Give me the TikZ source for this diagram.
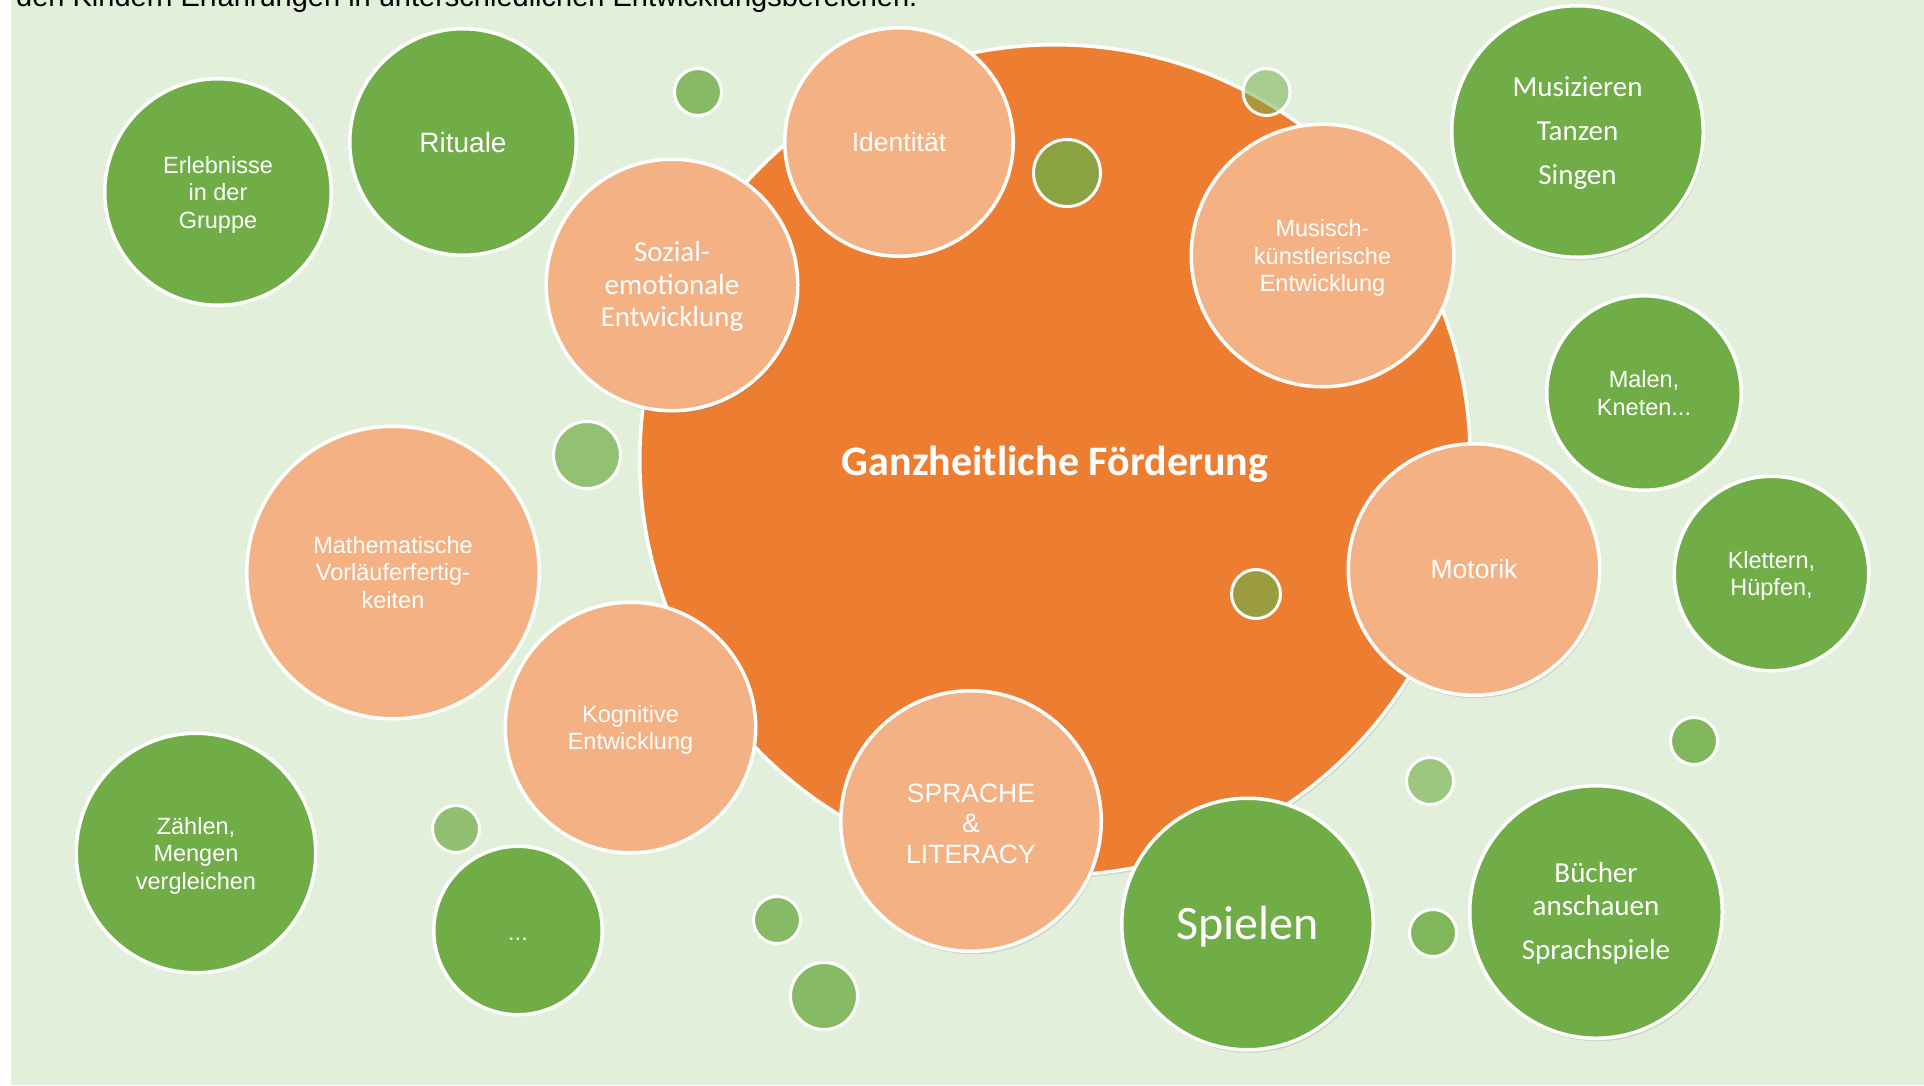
\documentclass[tikz,border=0pt]{standalone}
\usepackage{fontspec}
\setmainfont{Liberation Sans}
\newfontfamily\carlito{Carlito}
\usetikzlibrary{shadows}
\definecolor{bgc}{HTML}{E2EFDA}
\definecolor{corange}{HTML}{ED7D31}
\definecolor{clight}{HTML}{F4B183}
\definecolor{cgreen}{HTML}{70AD47}
\tikzset{
  bub/.style={circle, draw=white, line width=3.5pt, inner sep=0pt},
  grn/.style={bub, fill=cgreen},
  lor/.style={bub, fill=clight},
  dot/.style={circle, draw=white, line width=3pt, inner sep=0pt, fill=cgreen},
  shd/.style={drop shadow={opacity=0.22, shadow xshift=1.5pt, shadow yshift=-3pt}},
  txt/.style={text=white, align=center, inner sep=0pt},
  arsm/.style={txt, font=\fontsize{23.5}{27.5}\selectfont},
  armd/.style={txt, font=\fontsize{26.5}{30.5}\selectfont},
}
\begin{document}
\begin{tikzpicture}[x=1pt,y=-1pt]
\useasboundingbox (0,0) rectangle (1924,1085);
\fill[white] (0,0) rectangle (1924,1085);
\fill[bgc] (11,0) rectangle (1924,1085);
\node[anchor=base west, inner sep=0pt, font=\fontsize{29}{33}\selectfont] (title) at (16,6) {den Kindern Erfahrungen in unterschiedlichen Entwicklungsbereichen.};

% central circle
\node[bub, fill=corange, minimum size=830.5pt, shd] (big) at (1055,460) {};
\node[txt, font=\carlito\bfseries\fontsize{42}{48}\selectfont] (big-t) at ([yshift=-4pt]big.center) {Ganzheitliche Förderung};

% light orange areas
\node[lor, minimum size=228.5pt] (ident) at (899,142) {};
\node[lor, minimum size=251.5pt, shd] (soz) at (672,285) {};
\node[lor, minimum size=262.5pt] (musk) at (1322.5,255.5) {};
\node[lor, minimum size=251.5pt, shd] (mot) at (1474,569.5) {};
\node[lor, minimum size=292.5pt] (math) at (393,572.5) {};
\node[lor, minimum size=250.5pt] (kog) at (630.5,727.5) {};
\node[lor, minimum size=260.5pt, shd] (spr) at (971,821) {};

% green activity circles
\node[grn, minimum size=226.5pt] (erl) at (218,192) {};
\node[grn, minimum size=226.5pt] (rit) at (463,142) {};
\node[grn, minimum size=251.5pt, shd] (muz) at (1577.5,131.5) {};
\node[grn, minimum size=194.5pt] (mal) at (1644,393) {};
\node[grn, minimum size=194.5pt] (klet) at (1771.5,573.5) {};
\node[grn, minimum size=251.5pt, shd] (spiel) at (1247.5,924) {};
\node[grn, minimum size=252.5pt, shd] (buch) at (1596,912) {};
\node[grn, minimum size=239.5pt] (zahl) at (196,853) {};
\node[grn, minimum size=168.5pt] (etc) at (518,930.5) {};

% texts
\node[armd] (ident-t) at (ident.center) {Identität};
\node[txt, font=\carlito\fontsize{29}{32.5}\selectfont] (soz-t) at ([yshift=-1.5pt]soz.center) {Sozial-\\emotionale\\Entwicklung};
\node[arsm] (musk-t) at ([yshift=-2.5pt]musk.center) {Musisch-\\künstlerische\\Entwicklung};
\node[armd] (mot-t) at (mot.center) {Motorik};
\node[arsm] (math-t) at (math.center) {Mathematische\\Vorläuferfertig-\\keiten};
\node[arsm] (kog-t) at ([yshift=-2.5pt]kog.center) {Kognitive\\Entwicklung};
\node[armd] (spr-t) at ([yshift=-2.5pt]spr.center) {SPRACHE\\\&\\LITERACY};
\node[arsm] (erl-t) at ([yshift=-2.5pt]erl.center) {Erlebnisse\\in der\\Gruppe};
\node[txt, font=\fontsize{28}{32}\selectfont] (rit-t) at (rit.center) {Rituale};
\node[txt, font=\carlito\fontsize{29}{44}\selectfont] (muz-t) at ([yshift=-1.5pt]muz.center) {Musizieren\\Tanzen\\Singen};
\node[arsm] (mal-t) at (mal.center) {Malen,\\Kneten...};
\node[arsm] (klet-t) at ([yshift=-2.5pt]klet.center) {Klettern,\\Hüpfen,};
\node[txt, font=\carlito\fontsize{48}{54}\selectfont] (spiel-t) at ([yshift=-2.5pt]spiel.center) {Spielen};
\node[txt, font=\carlito\fontsize{29}{33}\selectfont] (buch-t) at ([yshift=-1pt]buch.center) {Bücher\\anschauen\\[11pt]Sprachspiele};
\node[arsm] (zahl-t) at ([yshift=-2.5pt]zahl.center) {Zählen,\\Mengen\\vergleichen};
\node[arsm] (etc-t) at ([yshift=-9pt]etc.center) {...};

% small bubbles
\node[dot, fill opacity=0.8, minimum size=47pt] (s1) at (698,92) {};
\node[dot, fill opacity=0.78, minimum size=67pt] (s2) at (1067,173) {};
\node[dot, fill opacity=0.5, minimum size=47pt] (s3) at (1266.5,92) {};
\node[dot, fill opacity=0.69, minimum size=67pt] (s4) at (587,455) {};
\node[dot, fill opacity=0.66, minimum size=49pt] (s5) at (1256,594) {};
\node[dot, fill opacity=0.6, minimum size=47pt] (s6) at (1430,781) {};
\node[dot, fill opacity=0.85, minimum size=47pt] (s7) at (1694,741) {};
\node[dot, fill opacity=0.85, minimum size=47pt] (s8) at (1433,933) {};
\node[dot, fill opacity=0.7, minimum size=47pt] (s9) at (456,829) {};
\node[dot, fill opacity=0.8, minimum size=47pt] (s10) at (777,920) {};
\node[dot, fill opacity=0.8, minimum size=67pt] (s11) at (824,996) {};
\end{tikzpicture}
\end{document}
